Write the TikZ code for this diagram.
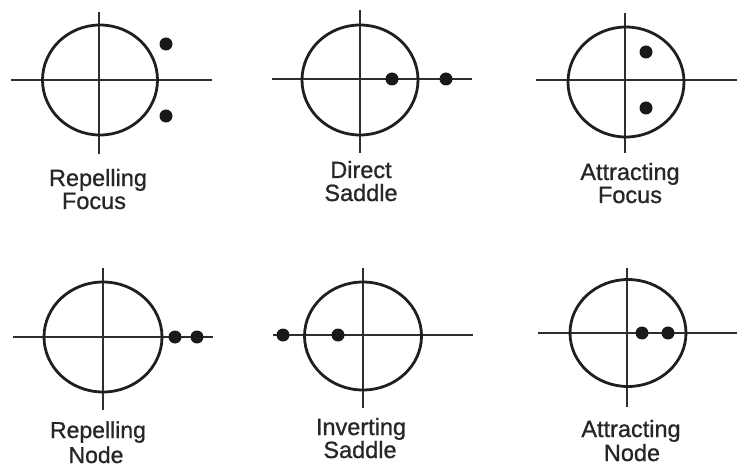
\documentclass[tikz,border=0pt]{standalone}
\usepackage{fontspec}
\setmainfont{Liberation Sans}
\newfontfamily\labfont{Liberation Sans}[FakeBold=0.9]
\begin{document}
\begin{tikzpicture}[x=1pt,y=-1pt,
  ring/.style={line width=2.8pt, draw=black!88},
  axis/.style={line width=1.3pt, draw=black!82},
  pole/.style={circle, fill=black!90, inner sep=0pt, minimum size=13pt},
  lab/.style={font=\labfont\fontsize{23.5}{24}\selectfont, anchor=base, inner sep=0pt, text=black!85}]
\useasboundingbox (0,0) rectangle (737,468);

% Panel 1: Repelling Focus
\coordinate (c1) at (100,80);
\coordinate (h1a) at (11,80); \coordinate (h1b) at (212,80);
\coordinate (v1a) at (99,12); \coordinate (v1b) at (99,154);
\draw[axis] (h1a) -- (h1b);
\draw[axis] (v1a) -- (v1b);
\draw[ring] (c1) ellipse [x radius=57.5, y radius=55];
\node[pole] (p1a) at (166,44) {};
\node[pole] (p1b) at (166,116) {};
\node[lab] (t1a) at (98,186) {Repelling};
\node[lab] (t1b) at (94,209) {Focus};

% Panel 2: Direct Saddle
\coordinate (c2) at (360,80);
\coordinate (h2a) at (272,79); \coordinate (h2b) at (472,79);
\coordinate (v2a) at (360,10); \coordinate (v2b) at (360,153);
\draw[axis] (h2a) -- (h2b);
\draw[axis] (v2a) -- (v2b);
\draw[ring] (c2) ellipse [x radius=58, y radius=55];
\node[pole] (p2a) at (392,79) {};
\node[pole] (p2b) at (446,79) {};
\node[lab] (t2a) at (361,178) {Direct};
\node[lab] (t2b) at (361,201) {Saddle};

% Panel 3: Attracting Focus
\coordinate (c3) at (626,82);
\coordinate (h3a) at (536,80); \coordinate (h3b) at (737,80);
\coordinate (v3a) at (625,13); \coordinate (v3b) at (625,153);
\draw[axis] (h3a) -- (h3b);
\draw[axis] (v3a) -- (v3b);
\draw[ring] (c3) ellipse [x radius=58, y radius=55];
\node[pole] (p3a) at (646,52) {};
\node[pole] (p3b) at (646,108) {};
\node[lab] (t3a) at (630,180) {Attracting};
\node[lab] (t3b) at (630,203) {Focus};

% Panel 4: Repelling Node
\coordinate (c4) at (103,337);
\coordinate (h4a) at (13,337); \coordinate (h4b) at (213,337);
\coordinate (v4a) at (103,268); \coordinate (v4b) at (103,410);
\draw[axis] (h4a) -- (h4b);
\draw[axis] (v4a) -- (v4b);
\draw[ring] (c4) ellipse [x radius=59, y radius=55];
\node[pole] (p4a) at (175,337) {};
\node[pole] (p4b) at (197,337) {};
\node[lab, font=\labfont\fontsize{23}{24}\selectfont] (t4a) at (98,438) {Repelling};
\node[lab, font=\labfont\fontsize{23}{24}\selectfont] (t4b) at (96,463) {Node};

% Panel 5: Inverting Saddle
\coordinate (c5) at (363,336);
\coordinate (h5a) at (273,335); \coordinate (h5b) at (473,335);
\coordinate (v5a) at (363,268); \coordinate (v5b) at (363,408);
\draw[axis] (h5a) -- (h5b);
\draw[axis] (v5a) -- (v5b);
\draw[ring] (c5) ellipse [x radius=58.5, y radius=54];
\node[pole] (p5a) at (283,335) {};
\node[pole] (p5b) at (338,335) {};
\node[lab] (t5a) at (361,435) {Inverting};
\node[lab] (t5b) at (360,458) {Saddle};

% Panel 6: Attracting Node
\coordinate (c6) at (628,333);
\coordinate (h6a) at (538,333); \coordinate (h6b) at (737,333);
\coordinate (v6a) at (627,268); \coordinate (v6b) at (627,407);
\draw[axis] (h6a) -- (h6b);
\draw[axis] (v6a) -- (v6b);
\draw[ring] (c6) ellipse [x radius=58, y radius=53.5];
\node[pole] (p6a) at (642,333) {};
\node[pole] (p6b) at (668,333) {};
\node[lab] (t6a) at (631,437) {Attracting};
\node[lab] (t6b) at (632,461) {Node};
\end{tikzpicture}
\end{document}
